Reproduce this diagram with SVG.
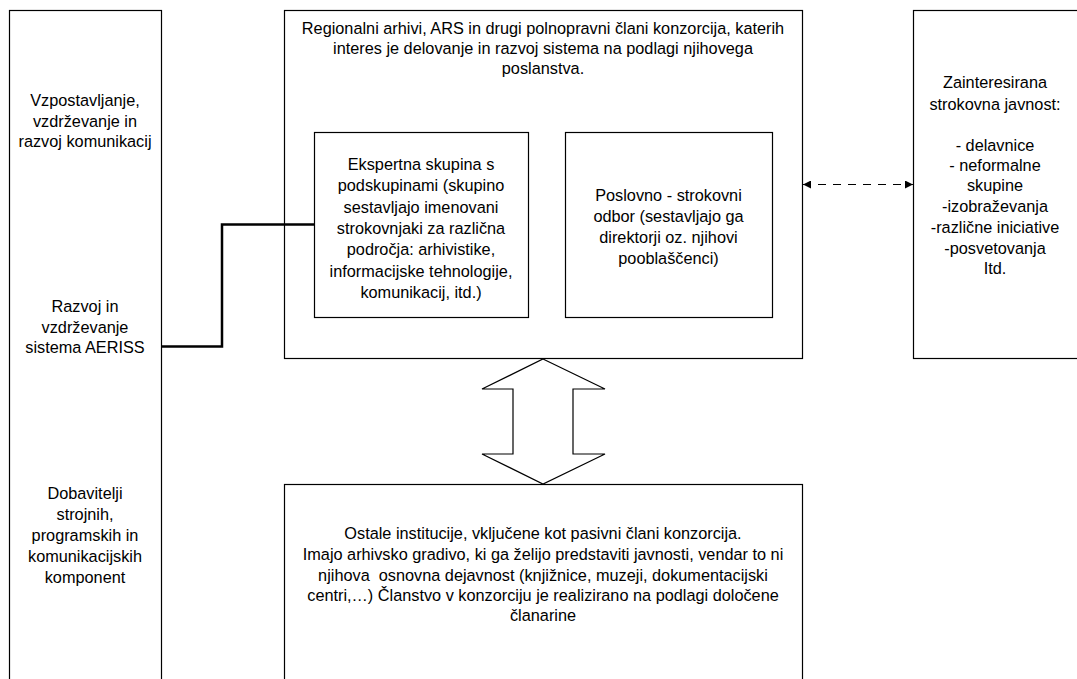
<svg xmlns="http://www.w3.org/2000/svg" width="1077" height="679" viewBox="0 0 1077 679">
<style>
.box{fill:#fff;stroke:#000;stroke-width:1.2}
.t{font-family:"Liberation Sans",Arial,sans-serif;font-size:16.3px;fill:#000;text-anchor:middle}
.conn{fill:none;stroke:#000}
</style>
<defs>
<marker id="ah" viewBox="0 0 10 10" refX="10" refY="5" markerWidth="9" markerHeight="8" orient="auto-start-reverse" markerUnits="userSpaceOnUse">
<path d="M0,0 L10,5 L0,10 z" fill="#000"/>
</marker>
</defs>
<rect width="1077" height="679" fill="#fff"/>
<g id="left">
<rect class="box" x="9.5" y="10.5" width="152" height="700"/>
<text class="t" x="85"><tspan x="85" y="106">Vzpostavljanje,</tspan><tspan x="85" y="126.5">vzdrževanje in</tspan><tspan x="85" y="147">razvoj komunikacij</tspan><tspan x="85" y="312">Razvoj in</tspan><tspan x="85" y="332.5">vzdrževanje</tspan><tspan x="85" y="353">sistema AERISS</tspan><tspan x="85" y="499">Dobavitelji</tspan><tspan x="85" y="520">strojnih,</tspan><tspan x="85" y="541">programskih in</tspan><tspan x="85" y="562">komunikacijskih</tspan><tspan x="85" y="583">komponent</tspan></text>
</g>
<g id="main">
<rect class="box" x="284.5" y="10.5" width="518" height="348"/>
<text class="t"><tspan x="543" y="34">Regionalni arhivi, ARS in drugi polnopravni člani konzorcija, katerih</tspan><tspan x="543" y="54">interes je delovanje in razvoj sistema na podlagi njihovega</tspan><tspan x="543" y="74">poslanstva.</tspan></text>
</g>
<g id="ekspertna">
<rect class="box" x="314.5" y="132.5" width="214" height="185"/>
<text class="t"><tspan x="421" y="170">Ekspertna skupina s</tspan><tspan x="421" y="191.3">podskupinami (skupino</tspan><tspan x="421" y="212.6">sestavljajo imenovani</tspan><tspan x="421" y="234">strokovnjaki za različna</tspan><tspan x="421" y="255.3">področja: arhivistike,</tspan><tspan x="421" y="276.6">informacijske tehnologije,</tspan><tspan x="421" y="298">komunikacij, itd.)</tspan></text>
</g>
<g id="poslovno">
<rect class="box" x="565.5" y="132.5" width="207" height="185"/>
<text class="t"><tspan x="668.5" y="201">Poslovno - strokovni</tspan><tspan x="668.5" y="222">odbor (sestavljajo ga</tspan><tspan x="668.5" y="243">direktorji oz. njihovi</tspan><tspan x="668.5" y="264">pooblaščenci)</tspan></text>
</g>
<g id="javnost">
<rect class="box" x="913.5" y="10.5" width="200" height="348"/>
<text class="t"><tspan x="995" y="88">Zainteresirana</tspan><tspan x="995" y="110">strokovna javnost:</tspan><tspan x="995" y="151">- delavnice</tspan><tspan x="995" y="171">- neformalne</tspan><tspan x="995" y="191">skupine</tspan><tspan x="995" y="211.5">-izobraževanja</tspan><tspan x="995" y="233">-različne iniciative</tspan><tspan x="995" y="253.5">-posvetovanja</tspan><tspan x="995" y="274">Itd.</tspan></text>
</g>
<g id="ostale">
<rect class="box" x="284.5" y="484.5" width="518" height="300"/>
<text class="t"><tspan x="543" y="539">Ostale institucije, vključene kot pasivni člani konzorcija.</tspan><tspan x="543" y="560">Imajo arhivsko gradivo, ki ga želijo predstaviti javnosti, vendar to ni</tspan><tspan x="543" y="580.5">njihova &#160;osnovna dejavnost (knjižnice, muzeji, dokumentacijski</tspan><tspan x="543" y="601">centri,…) Članstvo v konzorciju je realizirano na podlagi določene</tspan><tspan x="543" y="621">članarine</tspan></text>
</g>
<g id="connectors">
<polyline class="conn" stroke-width="2.5" points="161.5,346.5 222,346.5 222,224.5 314.5,224.5"/>
<line class="conn" stroke-width="1.2" x1="803" y1="184.5" x2="913" y2="184.5" stroke-dasharray="8,7" marker-start="url(#ah)" marker-end="url(#ah)"/>
<polygon class="box" points="543,359 605,389 573,389 573,454 605,454 543,484 482,454 513,454 513,389 482,389"/>
</g>
</svg>
